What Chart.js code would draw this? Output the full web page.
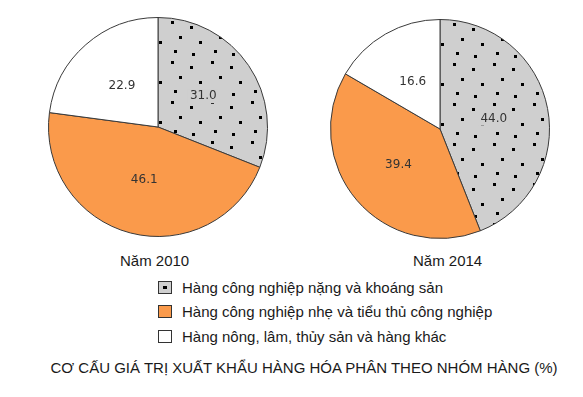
<!DOCTYPE html>
<html>
<head>
<meta charset="utf-8">
<script src="https://cdn.jsdelivr.net/npm/chart.js@4/dist/chart.umd.min.js"></script>
<style>
  body { margin:0; background:#fff; width:583px; height:397px; overflow:hidden; position:relative;
         font-family:"Liberation Sans", Arial, sans-serif; color:#1a1a1a; }
  .pie { position:absolute; width:220px; height:220px; }
  .year { position:absolute; top:252px; font-size:15px; }
  #legend { position:absolute; left:158px; top:275px; }
  .item { height:24.5px; display:flex; align-items:center; font-size:15px; }
  .box { width:12px; height:11px; border:1px solid #333; margin-right:10px; box-sizing:content-box; position:relative; }
  .box.dot::after { content:""; position:absolute; left:4px; top:4px; width:4px; height:3px; background:#000; }
  #title { position:absolute; left:0; width:583px; top:359px; text-align:center; font-size:15px; padding-left:25px; box-sizing:border-box; }
</style>
</head>
<body>
<div class="pie" style="left:48px;top:17px"><canvas id="pie1"></canvas></div>
<div class="pie" style="left:330px;top:19px"><canvas id="pie2"></canvas></div>
<div class="year" style="left:120px">Năm 2010</div>
<div class="year" style="left:413px">Năm 2014</div>
<div id="legend"></div>
<div id="title"></div>
<script>
var categories = ['Hàng công nghiệp nặng và khoáng sản', 'Hàng công nghiệp nhẹ và tiểu thủ công nghiệp', 'Hàng nông, lâm, thủy sản và hàng khác'];
var years = ['Năm 2010', 'Năm 2014'];
var values2010 = [31.0, 46.1, 22.9];
var values2014 = [44.0, 39.4, 16.6];
var chartTitle = 'CƠ CẤU GIÁ TRỊ XUẤT KHẨU HÀNG HÓA PHÂN THEO NHÓM HÀNG (%)';

// hoa van cham cho nhom hang nang
function dotPattern() {
  var c = document.createElement('canvas');
  c.width = 40; c.height = 40;
  var g = c.getContext('2d');
  g.fillStyle = '#cfcfcf';
  g.fillRect(0, 0, 40, 40);
  g.fillStyle = '#000';
  [[3, 4], [22, 9], [11, 19], [31, 24], [6, 33], [24, 36]].forEach(function(p) {
    g.fillRect(p[0], p[1], 3, 3);
  });
  return g.createPattern(c, 'repeat');
}
var colors = [dotPattern(), '#fa9a4b', '#ffffff'];

var labelPlugin = {
  id: 'sliceLabels',
  afterDatasetsDraw: function(chart) {
    var ctx = chart.ctx;
    var meta = chart.getDatasetMeta(0);
    ctx.save();
    ctx.font = '12px "DejaVu Sans", sans-serif';
    ctx.textAlign = 'center';
    ctx.textBaseline = 'middle';
    meta.data.forEach(function(arc, i) {
      var p = arc.tooltipPosition();
      var v = chart.data.datasets[0].data[i];
      if (i == 0) {
        ctx.fillStyle = '#cfcfcf';
        var w = ctx.measureText(v.toFixed(1)).width;
        ctx.fillRect(p.x - w / 2 - 2, p.y - 7, w + 4, 14);
      }
      ctx.fillStyle = '#333';
      ctx.fillText(v.toFixed(1), p.x, p.y);
    });
    ctx.restore();
  }
};

function makePie(id, data) {
  return new Chart(document.getElementById(id), {
    type: 'pie',
    data: {
      labels: categories,
      datasets: [{
        data: data,
        backgroundColor: colors,
        borderColor: '#3a3a3a',
        borderWidth: 1
      }]
    },
    options: {
      responsive: true,
      maintainAspectRatio: false,
      animation: false,
      layout: { padding: 0 },
      plugins: { legend: { display: false }, tooltip: { enabled: false } }
    },
    plugins: [labelPlugin]
  });
}
makePie('pie1', values2010);
makePie('pie2', values2014);

var legend = document.getElementById('legend');
categories.forEach(function(name, i) {
  var row = document.createElement('div');
  row.className = 'item';
  var box = document.createElement('span');
  box.className = 'box' + (i == 0 ? ' dot' : '');
  box.style.background = ['#cfcfcf', '#fa9a4b', '#ffffff'][i];
  row.appendChild(box);
  row.appendChild(document.createTextNode(name));
  legend.appendChild(row);
});
document.getElementById('title').textContent = chartTitle;
</script>
</body>
</html>
